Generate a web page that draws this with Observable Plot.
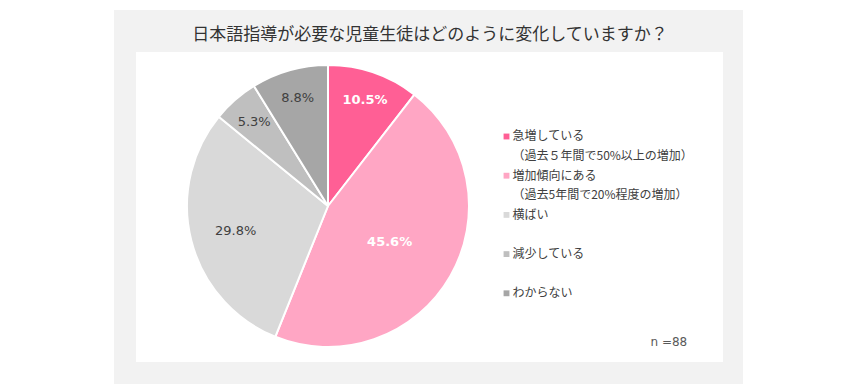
<!DOCTYPE html>
<html><head><meta charset="utf-8">
<script src="https://cdn.jsdelivr.net/npm/d3@7"></script>
<script src="https://cdn.jsdelivr.net/npm/@observablehq/plot@0.6"></script>
<style>
body{margin:0;background:#fff;width:867px;height:392px;overflow:hidden;position:relative;font-family:"Noto Sans CJK JP",sans-serif}
#outer{position:absolute;left:114px;top:10px;width:629px;height:374px;background:#f2f2f2}
#inner{position:absolute;left:136px;top:52px;width:587px;height:310px;background:#fff}
#title{position:absolute;left:114px;top:21px;width:632px;text-align:center;font-size:17px;color:#333;line-height:24px}
#chart{position:absolute;left:0;top:0}
</style></head><body>
<div id="outer"></div><div id="inner"></div>
<div id="title">日本語指導が必要な児童生徒はどのように変化していますか？</div>
<div id="chart"></div>
<script>
const categories = ["急増している","増加傾向にある","横ばい","減少している","わからない"];
const subLabels = ["（過去５年間で50%以上の増加）","（過去5年間で20%程度の増加）","","",""];
const shares = [10.5, 45.6, 29.8, 5.3, 8.8];
const colors = ["#ff5f95","#ffa6c4","#d9d9d9","#bfbfbf","#a6a6a6"];
const labelColors = ["#ffffff","#ffffff","#404040","#404040","#404040"];
const sampleNote = "n =88";

const total = d3.sum(shares);
let cum = 0;
const slices = categories.map((c, i) => {
  const v = shares[i];
  const mid = 2 * Math.PI * (cum + v / 2) / total;
  cum += v;
  const rho = v > 40 ? 0.5 : v > 20 ? 0.68 : 0.8;
  return {category: c, share: v, color: colors[i], labelColor: labelColors[i],
          lx: rho * Math.sin(mid), ly: rho * Math.cos(mid),
          label: v.toFixed(1) + "%", bold: i < 2};
});

function pieMark(data) {
  return (index, scales) => {
    const cx = scales.x(0), cy = scales.y(0), r = scales.x(1) - cx;
    const arcs = d3.pie().sort(null).value(d => d.share)(data);
    const arc = d3.arc().innerRadius(0).outerRadius(r);
    const g = d3.create("svg:g").attr("transform", `translate(${cx},${cy})`);
    g.selectAll("path").data(arcs).join("path")
      .attr("d", arc).attr("fill", d => d.data.color)
      .attr("stroke", "#fff").attr("stroke-width", 2).attr("stroke-linejoin", "round");
    return g.node();
  };
}

const legendMarks = [];
categories.forEach((c, i) => {
  const py = 136 + 39.2 * i;
  legendMarks.push(Plot.dot([c], {frameAnchor: "top-left", dx: 506, dy: py, symbol: "square", r: 3.3, fill: colors[i]}));
  legendMarks.push(Plot.text([c], {text: d => d, frameAnchor: "top-left", dx: 512, dy: py, textAnchor: "start", lineAnchor: "middle", fontSize: 12, fill: "#404040", fontFamily: "Noto Sans CJK JP"}));
  if (subLabels[i]) legendMarks.push(Plot.text([subLabels[i]], {text: d => d, frameAnchor: "top-left", dx: 512, dy: py + 19.5, textAnchor: "start", lineAnchor: "middle", fontSize: 12, fill: "#404040", fontFamily: "Noto Sans CJK JP"}));
});

const chart = Plot.plot({
  width: 867, height: 392,
  marginLeft: 0, marginRight: 0, marginTop: 0, marginBottom: 0,
  x: {domain: [-1, 1], range: [187, 469], axis: null},
  y: {domain: [-1, 1], range: [347, 65], axis: null},
  style: {background: "transparent", overflow: "visible"},
  marks: [
    pieMark(slices),
    Plot.text(slices.filter(d => d.bold), {x: "lx", y: "ly", text: "label", fill: "labelColor", fontSize: 13, fontWeight: "bold", fontFamily: "DejaVu Sans"}),
    Plot.text(slices.filter(d => !d.bold), {x: "lx", y: "ly", text: "label", fill: "labelColor", fontSize: 13, fontFamily: "DejaVu Sans"}),
    ...legendMarks,
    Plot.text([sampleNote], {text: d => d, frameAnchor: "top-left", dx: 650, dy: 342, textAnchor: "start", lineAnchor: "middle", fontSize: 12, fill: "#595959", fontFamily: "DejaVu Sans"})
  ]
});
document.getElementById("chart").appendChild(chart);
</script>
</body></html>
